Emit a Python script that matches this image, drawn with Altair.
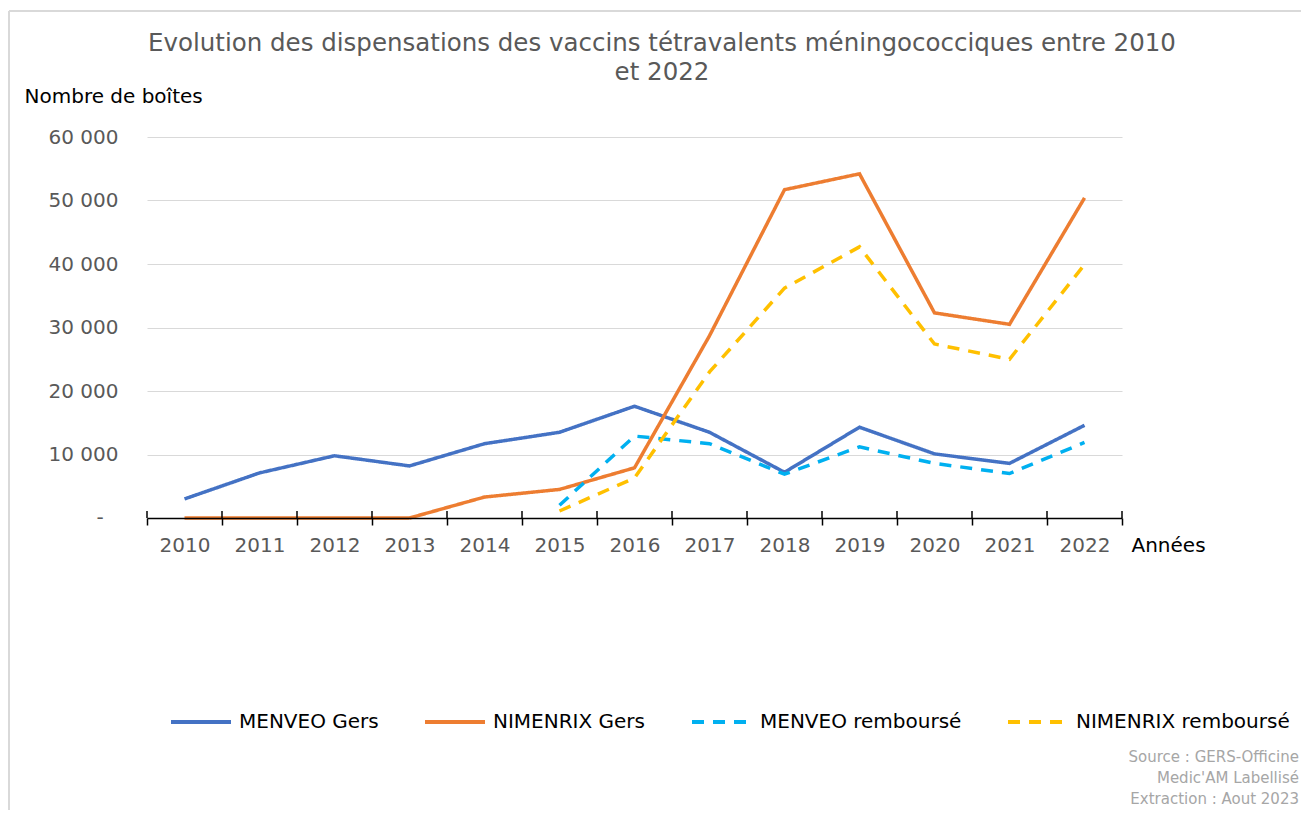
import altair as alt
import pandas as pd

years = [str(y) for y in range(2010, 2023)]
series_names = ["MENVEO Gers", "NIMENRIX Gers", "MENVEO remboursé", "NIMENRIX remboursé"]
series_colors = ["#4472C4", "#ED7D31", "#00B0F0", "#FFC000"]
series_dash = [[1, 0], [1, 0], [12, 9], [12, 9]]

menveo_gers = [3000, 7100, 9800, 8200, 11700, 13500, 17600, 13500, 7200, 14300, 10100, 8600, 14600]
nimenrix_gers = [0, 0, 0, 0, 3300, 4500, 7900, 28700, 51700, 54200, 32300, 30500, 50400]
menveo_remb = [None, None, None, None, None, 2000, 12900, 11700, 6900, 11200, 8600, 7000, 11900]
nimenrix_remb = [None, None, None, None, None, 1100, 6300, 23000, 36200, 42700, 27400, 25000, 39900]

y_ticks = [0, 10000, 20000, 30000, 40000, 50000, 60000]
zero_label = "-"
title_lines = ["Evolution des dispensations des vaccins tétravalents méningococciques entre 2010",
               "et 2022"]
source_lines = ["Source : GERS-Officine", "Medic'AM Labellisé", "Extraction : Aout 2023"]

rows = []
for name, vals in zip(series_names, [menveo_gers, nimenrix_gers, menveo_remb, nimenrix_remb]):
    for y, v in zip(years, vals):
        if v is not None:
            rows.append({"Année": y, "Valeur": v, "Série": name})
df = pd.DataFrame(rows)

FONT = "DejaVu Sans"
xscale = alt.Scale(type="band", domain=years, paddingInner=0, paddingOuter=0)
yscale = alt.Scale(domain=[0, 60000], nice=False)
xaxis = alt.Axis(title="Années", titleX=984, titleY=33, titleAlign="left",
                 titleBaseline="alphabetic", titleFont=FONT, titleFontSize=20,
                 titleFontWeight="normal", titleColor="#000000",
                 labelAngle=0, labelFont=FONT, labelFontSize=20, labelColor="#595959",
                 labelPadding=10, tickBand="extent", tickSize=7, tickColor="#000000",
                 tickWidth=1.5, domainColor="#000000", domainWidth=1.5, grid=False,
                 zindex=1)
yaxis = alt.Axis(title="Nombre de boîtes", titleAngle=0, titleX=-123, titleY=-35,
                 titleAlign="left", titleBaseline="alphabetic", titleFont=FONT,
                 titleFontSize=20, titleFontWeight="normal", titleColor="#000000",
                 values=y_ticks,
                 labelExpr="datum.value == 0 ? '' : replace(format(datum.value, ','), ',', ' ')",
                 labelFont=FONT, labelFontSize=20, labelColor="#595959", labelPadding=29,
                 domain=False, ticks=False, gridColor="#D9D9D9", gridWidth=1.2)

legend_cfg = dict(title=None, orient="none", direction="horizontal",
                  legendX=22, legendY=553, symbolType="stroke",
                  symbolSize=3600, symbolStrokeWidth=4, labelFont=FONT,
                  labelFontSize=20, labelColor="#000000", columnPadding=38,
                  labelOffset=6, padding=0, labelLimit=400)

lines = alt.Chart(df).mark_line(strokeWidth=3.5).encode(
    x=alt.X("Année:O", bandPosition=0.5, scale=xscale, axis=xaxis, title="Années"),
    y=alt.Y("Valeur:Q", scale=yscale, axis=yaxis, title="Nombre de boîtes"),
    color=alt.Color("Série:N", scale=alt.Scale(domain=series_names, range=series_colors),
                    legend=alt.Legend(**legend_cfg)),
    strokeDash=alt.StrokeDash("Série:N", scale=alt.Scale(domain=series_names, range=series_dash),
                              legend=alt.Legend(**legend_cfg)),
)

# "-" label for zero, placed like Excel's accounting format
zero_txt = alt.Chart(pd.DataFrame({"Valeur": [0], "t": [zero_label]})).mark_text(
    align="center", baseline="middle", font=FONT, fontSize=20, color="#595959"
).encode(x=alt.value(-47), y=alt.Y("Valeur:Q", scale=yscale, axis=yaxis, title="Nombre de boîtes"),
         text="t:N")

# upper half of the x-axis ticks (ticks cross the axis line)
tick_up = alt.Chart(pd.DataFrame({"Année": years})).mark_rule(color="#000000", strokeWidth=1.5).encode(
    x=alt.X("Année:O", bandPosition=0, scale=xscale, axis=xaxis, title="Années"),
    y=alt.value(374), y2=alt.value(381))
tick_up_last = alt.Chart(pd.DataFrame({"Année": [years[-1]]})).mark_rule(color="#000000", strokeWidth=1.5).encode(
    x=alt.X("Année:O", bandPosition=1, scale=xscale, axis=xaxis, title="Années"),
    y=alt.value(374), y2=alt.value(381))

title = alt.Chart(pd.DataFrame({"t": ["\n".join(title_lines)]})).mark_text(
    align="center", baseline="middle", font=FONT, fontSize=24.5, color="#595959",
    lineHeight=29, lineBreak="\n"
).encode(x=alt.value(515), y=alt.value(-93), text="t:N")

src = alt.Chart(pd.DataFrame({"t": ["\n".join(source_lines)]})).mark_text(
    align="right", baseline="alphabetic", font=FONT, fontSize=15, color="#A6A6A6",
    lineHeight=21, lineBreak="\n"
).encode(x=alt.value(1152), y=alt.value(625), text="t:N")

border_top = alt.Chart(pd.DataFrame({"b": [0]})).mark_rule(color="#D9D9D9", strokeWidth=2).encode(
    x=alt.value(-138), x2=alt.value(1160), y=alt.value(-126))
border_left = alt.Chart(pd.DataFrame({"b": [0]})).mark_rule(color="#D9D9D9", strokeWidth=2).encode(
    x=alt.value(-138), y=alt.value(-126), y2=alt.value(680))

chart = alt.layer(border_top, border_left, lines, zero_txt, tick_up, tick_up_last, title, src).properties(
    width=975, height=381,
    autosize=alt.AutoSizeParams(type="none"),
    padding={"left": 139, "top": 129, "right": 179, "bottom": 292},
).configure(background="#FFFFFF", view=alt.ViewConfig(stroke="transparent"))

chart.save("out.html", embed_options={"renderer": "svg", "actions": False})
